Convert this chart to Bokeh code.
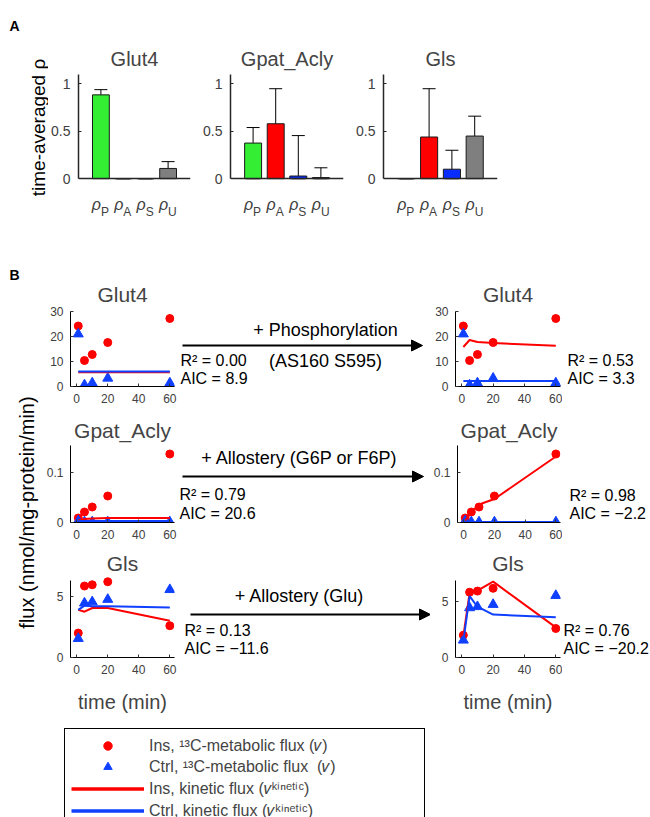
import math
from bokeh.plotting import figure
from bokeh.models import (Range1d, ColumnDataSource, Whisker, TeeHead, Arrow, NormalHead,
                          Legend, LegendItem, FixedTicker)
from bokeh.layouts import row, column
from bokeh.core.properties import value
from bokeh.embed import file_html
from bokeh.resources import INLINE

FONT = "Liberation Sans"
RED = "#ff0000"
BLUE = "#1040ff"
TICKC = "#404040"
NAN = float("nan")

# ---------------- Panel A data ----------------
rho_names = ["P", "A", "S", "U"]
rho_colors = ["#33ee33", "#ff0000", "#0a2dff", "#7f7f7f"]
a_titles = ["Glut4", "Gpat_Acly", "Gls"]

glut4_rho = [0.885, 0.0, 0.0, 0.108]
glut4_lo = [0.81, 0.0, 0.0, 0.055]
glut4_hi = [0.94, 0.0, 0.0, 0.18]

gpat_rho = [0.376, 0.58, 0.028, 0.012]
gpat_lo = [0.0, 0.15, 0.0, 0.0]
gpat_hi = [0.54, 0.95, 0.455, 0.115]

gls_rho = [0.0, 0.44, 0.10, 0.45]
gls_lo = [0.0, 0.14, 0.0, 0.01]
gls_hi = [0.0, 0.95, 0.30, 0.66]

a_yticks = [0, 0.5, 1]

# ---------------- Panel B data ----------------
time_min = [1, 5, 10, 20, 60]
b_xticks = [0, 20, 40, 60]

glut4_ins = [24.2, 10.4, 12.8, 17.6, 27.2]
glut4_ctrl = [21.0, 0.6, 1.4, 3.3, 1.4]
glut4_ins_fit_base = [5.7, 5.7, 5.7, 5.7, 5.7]
glut4_ctrl_fit_base = [6.0, 6.0, 6.0, 6.0, 6.0]
glut4_ins_fit_new = [15.8, 18.6, 17.8, 17.4, 16.3]
glut4_ctrl_fit_new = [2.2, 2.2, 2.2, 2.2, 2.2]
glut4_yticks = [0, 10, 20, 30]

gpat_ins = [0.009, 0.021, 0.031, 0.053, 0.137]
gpat_ctrl = [0.003, 0.001, 0.001, 0.001, 0.001]
gpat_ins_fit_base = [0.004, 0.007, 0.008, 0.009, 0.009]
gpat_ctrl_fit_base = [0.003, 0.003, 0.003, 0.003, 0.003]
gpat_ins_fit_new = [0.004, 0.020, 0.036, 0.047, 0.132]
gpat_ctrl_fit_new = [0.001, 0.001, 0.001, 0.001, 0.001]
gpat_yticks = [0, 0.1]

gls_ins = [2.0, 5.85, 5.95, 6.2, 2.6]
gls_ctrl = [1.55, 4.45, 4.55, 4.75, 5.55]
gls_ins_fit_base = [3.9, 3.75, 4.05, 4.05, 3.0]
gls_ctrl_fit_base = [3.9, 4.25, 4.2, 4.2, 4.1]
gls_ins_fit_new = [1.9, 5.8, 6.0, 6.8, 2.7]
gls_ctrl_fit_new = [1.45, 5.5, 4.55, 3.85, 3.6]
gls_yticks = [0, 5]

stats_base = [("R\u00b2 = 0.00", "AIC = 8.9"), ("R\u00b2 = 0.79", "AIC = 20.6"),
              ("R\u00b2 = 0.13", "AIC = \u221211.6")]
stats_new = [("R\u00b2 = 0.53", "AIC = 3.3"), ("R\u00b2 = 0.98", "AIC = \u22122.2"),
             ("R\u00b2 = 0.76", "AIC = \u221220.2")]
mechanisms = [("+ Phosphorylation", "(AS160 S595)"), ("+ Allostery (G6P or F6P)", ""),
              ("+ Allostery (Glu)", "")]

legend_labels = ["Ins, \u00b9\u00b3C-metabolic flux (\U0001d463)",
                 "Ctrl, \u00b9\u00b3C-metabolic flux  (\U0001d463)",
                 "Ins, kinetic flux (\U0001d463\u1d4f\u2071\u207f\u1d49\u1d57\u2071\u1d9c)",
                 "Ctrl, kinetic flux (\U0001d463\u1d4f\u2071\u207f\u1d49\u1d57\u2071\u1d9c)"]


def canvas(width, height, x0, y_top, y_bottom, bt=0, bb=0):
    """Blank drawing area; data units are page pixels (y downward) over its frame."""
    p = figure(width=width, height=height, x_range=Range1d(x0, x0 + width),
               y_range=Range1d(y_bottom, y_top), output_backend="svg", toolbar_location=None,
               x_axis_location=None, y_axis_location=None,
               min_border_left=0, min_border_right=0, min_border_top=bt, min_border_bottom=bb)
    p.grid.visible = False
    p.outline_line_color = None
    return p


def txt(p, x, y, s, size, align="left", baseline="middle", bold=False, angle=0.0, color="black"):
    p.text(x=[x], y=[y], text=[s], text_font=value(FONT), text_font_size=f"{size}px",
           text_align=align, text_baseline=baseline, angle=angle,
           text_font_style="bold" if bold else "normal", text_color=color)


# ---------------- Panel A ----------------
def bar_panel(title, vals, lo, hi, width, bl, br):
    p = figure(width=width, height=245, x_range=Range1d(0, 5), y_range=Range1d(-0.6, 1.1),
               min_border_left=bl, min_border_right=br, min_border_top=74, min_border_bottom=10,
               output_backend="svg", toolbar_location=None, title=title)
    p.grid.visible = False
    p.outline_line_color = None
    p.title.align = "center"
    p.title.text_font = FONT
    p.title.text_font_size = "20px"
    p.title.text_font_style = "normal"
    p.title.standoff = 10
    xs = [i + 1 for i in range(len(rho_names))]
    src = ColumnDataSource(dict(x=xs, top=vals, lo=lo, hi=hi, color=rho_colors, sub=rho_names))
    p.vbar(x="x", top="top", bottom=0, width=0.75, fill_color="color", line_color="#1a1a1a",
           line_width=1, source=src)
    p.add_layout(Whisker(source=src, base="x", upper="hi", lower="lo", line_color="black",
                         line_width=1,
                         upper_head=TeeHead(size=13, line_color="black", line_width=1),
                         lower_head=TeeHead(size=13, line_color="black", line_width=1)))
    p.text(x="x", y=-0.275, text=value("\u03c1"), source=src, text_align="right", x_offset=0,
           text_font=value(FONT), text_font_size="16px", text_color=TICKC,
           text_baseline="alphabetic", text_font_style="italic")
    p.text(x="x", y=-0.355, text="sub", source=src, text_align="left", x_offset=0,
           text_font=value(FONT), text_font_size="12px", text_color=TICKC,
           text_baseline="alphabetic")
    p.xaxis.fixed_location = 0
    p.xaxis.ticker = FixedTicker(ticks=[])
    p.xaxis.axis_line_color = "#262626"
    p.xaxis.axis_line_width = 1.5
    p.yaxis.bounds = (0, 1.1)
    p.yaxis.ticker = FixedTicker(ticks=a_yticks)
    p.yaxis.major_label_overrides = {0: "0", 1: "1"}
    p.yaxis.axis_line_color = "#262626"
    p.yaxis.axis_line_width = 1.5
    p.yaxis.major_tick_in = 3
    p.yaxis.major_tick_out = 0
    p.yaxis.major_tick_line_color = "#262626"
    p.yaxis.minor_tick_line_color = None
    p.yaxis.major_label_standoff = 8
    p.yaxis.major_label_text_font = FONT
    p.yaxis.major_label_text_font_size = "14px"
    p.yaxis.major_label_text_color = TICKC
    return p


stripA = canvas(48, 245, 0, 0, 245)
txt(stripA, 9, 25, "A", 14, baseline="alphabetic", bold=True)
txt(stripA, 38, 127, "time-averaged \u03c1", 19, align="center", angle=math.pi / 2)

pa1 = bar_panel(a_titles[0], glut4_rho, glut4_lo, glut4_hi, 152, 29, 10)
pa2 = bar_panel(a_titles[1], gpat_rho, gpat_lo, gpat_hi, 153, 30, 10)
pa3 = bar_panel(a_titles[2], gls_rho, gls_lo, gls_hi, 297, 30, 153)
rowA = row(stripA, row(pa1, pa2, pa3))


# ---------------- Panel B ----------------
def flux_panel(title, ins, ctrl, ins_fit, ctrl_fit, ylim, extra, yticks, width, height, bl, br,
               bt, bb, standoff, xlabel=None):
    # frame may extend a little above the axis top so markers there are not clipped
    p = figure(width=width, height=height, x_range=Range1d(-4, 63),
               y_range=Range1d(ylim[0], ylim[1] * extra),
               min_border_left=bl, min_border_right=br, min_border_top=bt, min_border_bottom=bb,
               output_backend="svg", toolbar_location=None, title=title)
    p.grid.visible = False
    p.outline_line_color = None
    p.title.align = "center"
    p.title.text_font = FONT
    p.title.text_font_size = "21px"
    p.title.text_font_style = "normal"
    p.title.standoff = standoff
    p.scatter(time_min, ins, marker="circle", size=8, fill_color=RED, line_color=RED)
    p.scatter(time_min, ctrl, marker="triangle", size=10, fill_color=BLUE, line_color=BLUE)
    p.line(time_min, ins_fit, line_color=RED, line_width=2)
    p.line(time_min, ctrl_fit, line_color=BLUE, line_width=2)
    p.xaxis.ticker = FixedTicker(ticks=b_xticks)
    p.yaxis.ticker = FixedTicker(ticks=yticks)
    p.yaxis.bounds = ylim
    p.yaxis.major_label_overrides = {0: "0"}
    for ax in (p.xaxis, p.yaxis):
        ax.axis_line_color = "black"
        ax.axis_line_width = 1
        ax.major_tick_in = 3
        ax.major_tick_out = 0
        ax.major_tick_line_color = "#333333"
        ax.minor_tick_line_color = None
        ax.major_label_text_font = FONT
        ax.major_label_text_font_size = "12px"
        ax.major_label_text_color = TICKC
        ax.major_label_standoff = 7
    if xlabel:
        p.xaxis.axis_label = xlabel
        p.xaxis.axis_label_text_font = FONT
        p.xaxis.axis_label_text_font_size = "20px"
        p.xaxis.axis_label_text_font_style = "normal"
        p.xaxis.axis_label_standoff = 14
    return p


row_tops = [245, 412, 548]
row_heights = [167, 136, 172]
axis_tops = [66, 33, 32]          # border above the y-axis top
axis_heights = [75, 77, 77]       # y-axis length in px
headroom = [0, 0, 5]              # extra frame height above the axis top
title_standoffs = [11, 7, 1]
row_titles = ["Glut4", "Gpat_Acly", "Gls"]
series = [
    (glut4_ins, glut4_ctrl, glut4_ins_fit_base, glut4_ctrl_fit_base, glut4_ins_fit_new,
     glut4_ctrl_fit_new, (0, 30), (0, 30), glut4_yticks),
    (gpat_ins, gpat_ctrl, gpat_ins_fit_base, gpat_ctrl_fit_base, gpat_ins_fit_new,
     gpat_ctrl_fit_new, (0, 0.154), (0, 0.154), gpat_yticks),
    (gls_ins, gls_ctrl, gls_ins_fit_base, gls_ctrl_fit_base, gls_ins_fit_new, gls_ctrl_fit_new,
     (0, 6.3), (0, 6.9), gls_yticks),
]
# annotation geometry (page pixels)
mech_y = [(329, 360), (457, None), (595, None)]
mech_x = [325, 299, 299]
arrow_geo = [(182, 422, 345), (182, 423, 476), (190, 430, 614)]
stat_left_geo = [(180, 360, 378), (179, 494, 513), (184, 630, 648)]
stat_right_geo = [(567, 360, 378), (569, 495, 513), (563, 630, 648)]

rowsB = []
for i in range(3):
    ins, ctrl, ifb, cfb, ifn, cfn, ylim_l, ylim_r, yt = series[i]
    h = row_heights[i]
    bt = axis_tops[i] - headroom[i]
    fh = axis_heights[i] + headroom[i]
    extra = fh / axis_heights[i]
    bb = h - bt - fh
    ftop = row_tops[i] + bt
    fbot = ftop + fh
    xl = "time (min)" if i == 2 else None
    left = flux_panel(row_titles[i], ins, ctrl, ifb, cfb, ylim_l, extra, yt, 138, h, 30, 4, bt, bb,
                      title_standoffs[i], xl)
    right = flux_panel(row_titles[i], ins, ctrl, ifn, cfn, ylim_r, extra, yt, 132, h, 25, 2, bt, bb,
                       title_standoffs[i], xl)
    mid = canvas(252, h, 178, ftop, fbot, bt, bb)
    x0, x1, ya = arrow_geo[i]
    mid.add_layout(Arrow(x_start=x0, y_start=ya, x_end=x1, y_end=ya, line_width=2,
                         line_color="black",
                         end=NormalHead(size=11, fill_color="black", line_color="black")))
    m1, m2 = mechanisms[i]
    txt(mid, mech_x[i], mech_y[i][0], m1, 18, align="center")
    if m2:
        txt(mid, mech_x[i], mech_y[i][1], m2, 18, align="center")
    sx, sy1, sy2 = stat_left_geo[i]
    txt(mid, sx, sy1, stats_base[i][0], 16)
    txt(mid, sx, sy2, stats_base[i][1], 16)
    rc = canvas(88, h, 562, ftop, fbot, bt, bb)
    sx, sy1, sy2 = stat_right_geo[i]
    txt(rc, sx, sy1, stats_new[i][0], 16)
    txt(rc, sx, sy2, stats_new[i][1], 16)
    rowsB.append(row(left, mid, right, rc))

strip = canvas(40, 475, 0, 245, 720)
txt(strip, 9, 274, "B", 14, baseline="alphabetic", bold=True)
txt(strip, 26, 512, "flux (nmol/mg-protein/min)", 20, align="center", angle=math.pi / 2)

blockB = row(strip, column(*rowsB))

# ---------------- Legend ----------------
leg = figure(width=650, height=97, x_range=Range1d(0, 1), y_range=Range1d(0, 1),
             output_backend="svg", toolbar_location=None, x_axis_location=None,
             y_axis_location=None,
             min_border_left=56, min_border_right=0, min_border_top=0, min_border_bottom=0)
leg.grid.visible = False
leg.outline_line_color = None
r1 = leg.scatter(x=[NAN], y=[NAN], marker="circle", size=13, fill_color=RED, line_color=RED)
r2 = leg.scatter(x=[NAN], y=[NAN], marker="triangle", size=13, fill_color=BLUE, line_color=BLUE)
r3 = leg.line(x=[NAN], y=[NAN], line_color=RED, line_width=3.5)
r4 = leg.line(x=[NAN], y=[NAN], line_color=BLUE, line_width=3.5)
legend = Legend(items=[LegendItem(label=legend_labels[0], renderers=[r1]),
                       LegendItem(label=legend_labels[1], renderers=[r2]),
                       LegendItem(label=legend_labels[2], renderers=[r3]),
                       LegendItem(label=legend_labels[3], renderers=[r4])],
                location="top_left", margin=8, padding=6, spacing=0,
                glyph_width=73, glyph_height=21, label_width=269, label_height=21,
                label_standoff=5, label_text_font=FONT, label_text_font_size="16px",
                border_line_color="black", border_line_width=1, border_line_alpha=1,
                background_fill_color="white", background_fill_alpha=1)
leg.add_layout(legend)

layout = column(rowA, blockB, leg)

open("out.html", "w").write(file_html(layout, INLINE, title="chart"))
